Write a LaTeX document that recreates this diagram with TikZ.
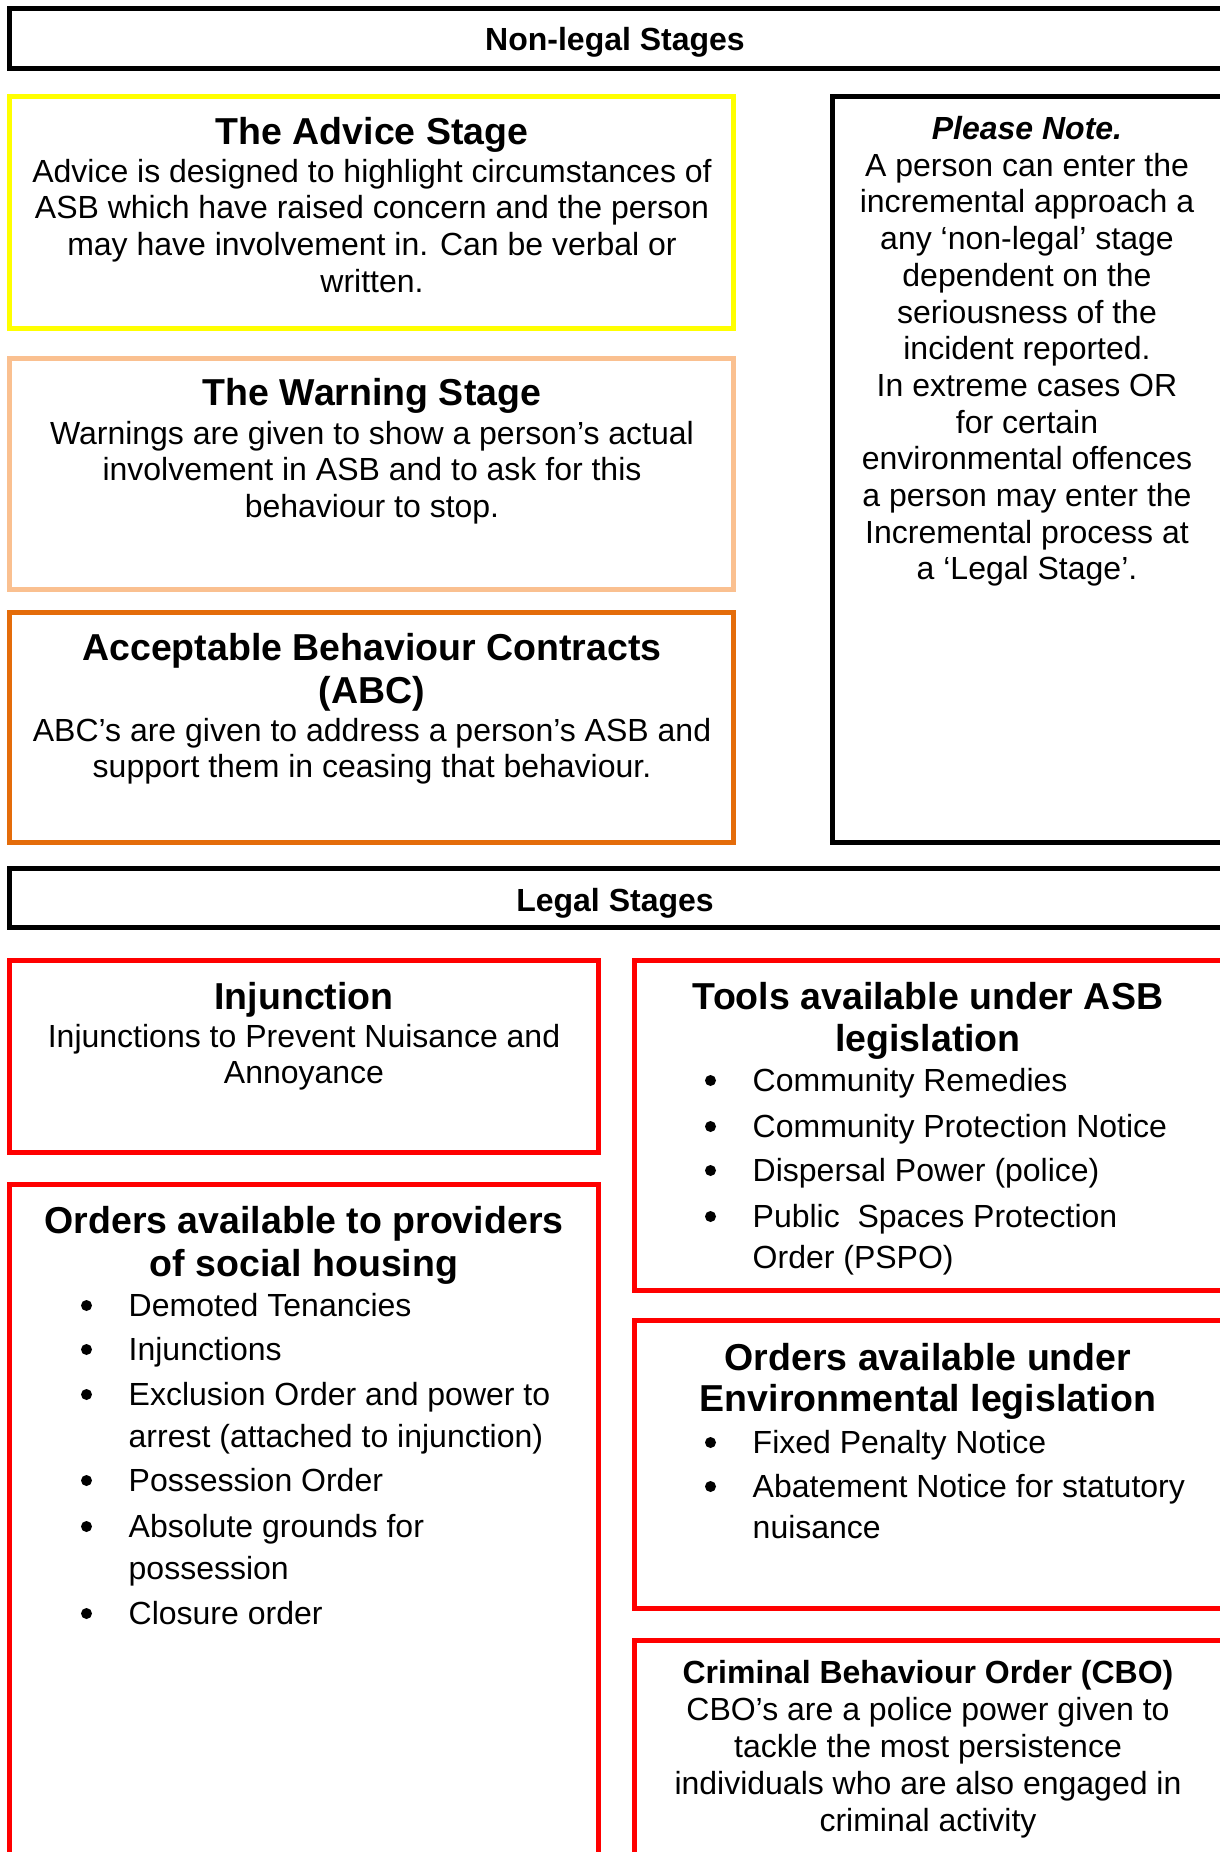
\documentclass[tikz,border=0pt]{standalone}
\usepackage{fontspec}
\setmainfont{Liberation Sans}
\definecolor{advY}{HTML}{FFFF00}
\definecolor{warnO}{HTML}{FAC090}
\definecolor{abcO}{HTML}{E46C0A}
\definecolor{legR}{HTML}{FF0000}
\newcommand\bitem[4]{%
  \node[bul] (#1b) at (#2,#3-10.5) {};
  \node[itm] (#1) at (#2+42,#3) {#4};}
\begin{document}
\begin{tikzpicture}[x=1pt,y=-1pt,
  frame/.style={draw=#1, line width=5pt, rectangle, anchor=north west, inner sep=0pt, outer sep=0pt},
  hdr/.style={draw=black, line width=5pt, rectangle, anchor=north west, inner sep=0pt, outer sep=0pt},
  bodytxt/.style={anchor=north, align=center, inner sep=0pt, font=\fontsize{32}{36.7}\selectfont},
  titletxt/.style={anchor=north, align=center, inner sep=0pt, font=\fontsize{37.5}{43}\selectfont\bfseries},
  hdrtxt/.style={anchor=base, inner sep=0pt, font=\fontsize{32}{36}\selectfont\bfseries},
  bul/.style={circle, fill=black, draw=none, inner sep=0pt, minimum size=11pt},
  itm/.style={anchor=base west, inner sep=0pt, font=\fontsize{32}{36}\selectfont}]
\path[use as bounding box, clip] (0,0) rectangle (1220,1852);
\fill[white] (0,0) rectangle (1220,1852);
% ---------- Non-legal ----------
\node[hdr, minimum width=1220pt, minimum height=60pt] (nlhdr) at (9.8,8.3) {};
\node[hdrtxt] (nlhdrt) at (615,51) {Non-legal Stages};

\node[frame=advY, minimum width=724pt, minimum height=231.7pt] (advice) at (9.5,96.5) {};
\node[titletxt] (advicet) at (372,111) {\rule{0pt}{33pt}The Advice Stage};
\node[bodytxt] (adviceb) at (372,154) {\rule{0pt}{28pt}Advice is designed to highlight circumstances of\\ASB which have raised concern and the person\\may have involvement in. Can be verbal or\\written.};

\node[frame=warnO, minimum width=724pt, minimum height=230.7pt] (warning) at (9.5,358.5) {};
\node[titletxt] (warningt) at (372,372) {\rule{0pt}{33pt}The Warning Stage};
\node[bodytxt] (warningb) at (372,416) {\rule{0pt}{28pt}Warnings are given to show a person’s actual\\involvement in ASB and to ask for this\\behaviour to stop.};

\node[frame=abcO, minimum width=724pt, minimum height=230pt] (abc) at (9.5,612.5) {};
\node[titletxt] (abct) at (372,627) {\rule{0pt}{33pt}Acceptable Behaviour Contracts\\(ABC)};
\node[bodytxt] (abcb) at (372,713) {\rule{0pt}{28pt}ABC’s are given to address a person’s ASB and\\support them in ceasing that behaviour.};

\node[frame=black, minimum width=400pt, minimum height=746pt] (note) at (832.5,96.5) {};
\node[bodytxt, font=\fontsize{32}{36.7}\selectfont\bfseries\itshape] (notet) at (1027,111) {\rule{0pt}{28pt}Please Note.};
\node[bodytxt] (noteb) at (1027,148) {\rule{0pt}{28pt}A person can enter the\\incremental approach a\\any ‘non-legal’ stage\\dependent on the\\seriousness of the\\incident reported.\\In extreme cases OR\\for certain\\environmental offences\\a person may enter the\\Incremental process at\\a ‘Legal Stage’.};

% ---------- Legal ----------
\node[hdr, minimum width=1220pt, minimum height=59pt] (lhdr) at (9.8,868.5) {};
\node[hdrtxt] (lhdrt) at (615,911) {Legal Stages};

\node[frame=legR, minimum width=589pt, minimum height=191.7pt] (inj) at (9.5,960.8) {};
\node[titletxt] (injt) at (304,976) {\rule{0pt}{33pt}Injunction};
\node[bodytxt, font=\fontsize{32}{36}\selectfont] (injb) at (304,1019) {\rule{0pt}{28pt}Injunctions to Prevent Nuisance and\\Annoyance};

\node[frame=legR, minimum width=589pt, minimum height=700pt] (social) at (9.5,1184.8) {};
\node[titletxt] (socialt) at (304,1200) {\rule{0pt}{33pt}Orders available to providers\\of social housing};
\bitem{s1}{86.5}{1316}{Demoted Tenancies}
\bitem{s2}{86.5}{1360}{Injunctions}
\bitem{s3}{86.5}{1405}{Exclusion Order and power to}
\node[itm] (s3c) at (128.5,1447) {arrest (attached to injunction)};
\bitem{s4}{86.5}{1491}{Possession Order}
\bitem{s5}{86.5}{1537}{Absolute grounds for}
\node[itm] (s5c) at (128.5,1579) {possession};
\bitem{s6}{86.5}{1624}{Closure order}

\node[frame=legR, minimum width=600pt, minimum height=330pt] (tools) at (634.2,960.8) {};
\node[titletxt, font=\fontsize{37.5}{42}\selectfont\bfseries] (toolst) at (928,976) {\rule{0pt}{33pt}Tools available under ASB\\legislation};
\bitem{t1}{710.5}{1091}{Community Remedies}
\bitem{t2}{710.5}{1137}{Community Protection Notice}
\bitem{t3}{710.5}{1181}{Dispersal Power (police)}
\bitem{t4}{710.5}{1227}{Public\ \ Spaces Protection}
\node[itm] (t4c) at (752.5,1268) {Order (PSPO)};

\node[frame=legR, minimum width=600pt, minimum height=287.2pt] (env) at (634.2,1320.8) {};
\node[titletxt, font=\fontsize{37.5}{41.5}\selectfont\bfseries] (envt) at (928,1337) {\rule{0pt}{33pt}Orders available under\\Environmental legislation};
\bitem{e1}{710.5}{1453}{Fixed Penalty Notice}
\bitem{e2}{710.5}{1497}{Abatement Notice for statutory}
\node[itm] (e2c) at (752.5,1538) {nuisance};

\node[frame=legR, minimum width=600pt, minimum height=300pt] (cbo) at (634.2,1640) {};
\node[bodytxt, font=\fontsize{32}{37}\selectfont\bfseries] (cbot) at (928,1655) {\rule{0pt}{28pt}Criminal Behaviour Order (CBO)};
\node[bodytxt, font=\fontsize{32}{37}\selectfont] (cbob) at (928,1692) {\rule{0pt}{28pt}CBO’s are a police power given to\\tackle the most persistence\\individuals who are also engaged in\\criminal activity};
\end{tikzpicture}
\end{document}
